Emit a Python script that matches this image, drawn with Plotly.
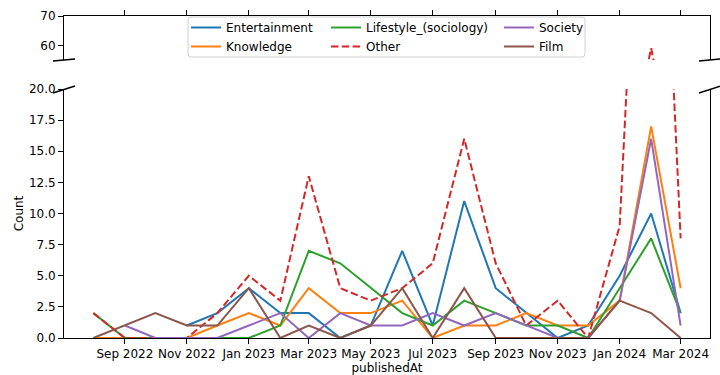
import pandas as pd
import plotly.graph_objects as go

# Monthly counts per category
months = ["2022-08-01", "2022-09-01", "2022-10-01", "2022-11-01", "2022-12-01",
          "2023-01-01", "2023-02-01", "2023-03-01", "2023-04-01", "2023-05-01",
          "2023-06-01", "2023-07-01", "2023-08-01", "2023-09-01", "2023-10-01",
          "2023-11-01", "2023-12-01", "2024-01-01", "2024-02-01", "2024-03-01"]
entertainment = [None, None, None, 1, 2, 4, 2, 2, 0, 1, 7, 1, 11, 4, 2, 0, 1, 5, 10, 2]
knowledge = [0, 0, 0, 0, 1, 2, 1, 4, 2, 2, 3, 0, 1, 1, 2, 1, 1, 3, 17, 4]
lifestyle = [2, 0, 0, 0, 0, 0, 1, 7, 6, 4, 2, 1, 3, 2, 1, 1, 0, 4, 8, 2]
other = [2, 0, 0, 0, 2, 5, 3, 13, 4, 3, 4, 6, 16, 6, 1, 3, 0, 9, 59, 8]
society = [None, 1, 0, 0, 0, 1, 2, 0, 2, 1, 1, 2, 1, 2, 1, 0, 0, 3, 16, 1]
film = [0, 1, 2, 1, 1, 4, 0, 1, 0, 1, 4, 0, 4, 0, 0, 0, 0, 3, 2, 0]

tick_dates = ["2022-09-01", "2022-11-01", "2023-01-01", "2023-03-01", "2023-05-01",
              "2023-07-01", "2023-09-01", "2023-11-01", "2024-01-01", "2024-03-01"]
tick_labels = ["Sep 2022", "Nov 2022", "Jan 2023", "Mar 2023", "May 2023",
               "Jul 2023", "Sep 2023", "Nov 2023", "Jan 2024", "Mar 2024"]

series = [
    ("Entertainment", entertainment, "#1f77b4", "solid", "legend"),
    ("Knowledge", knowledge, "#ff7f0e", "solid", "legend"),
    ("Lifestyle_(sociology)", lifestyle, "#2ca02c", "solid", "legend2"),
    ("Other", other, "#d62728", "7.5px,3.3px", "legend2"),
    ("Society", society, "#9467bd", "solid", "legend3"),
    ("Film", film, "#8c564b", "solid", "legend3"),
]

W, H = 720, 375
L, R, T, B = 64, 10, 16, 37
PW, PH = W - L - R, H - T - B


def fx(p):
    return (p - L) / PW


def fy(p):
    return (H - B - p) / PH


FONT = "DejaVu Sans"
FS = 12

fig = go.Figure()
for name, vals, color, dash, leg in series:
    for ax_y, show in (("y", True), ("y2", False)):
        fig.add_trace(go.Scatter(
            x=months, y=vals, name=name, mode="lines",
            line=dict(color=color, width=2, dash=dash),
            xaxis="x" if ax_y == "y" else "x2", yaxis=ax_y,
            showlegend=show, legend=leg, connectgaps=False,
        ))

t0, t1 = pd.Timestamp(months[0]), pd.Timestamp(months[-1])
pad = (t1 - t0) * 0.05
xr = [t0 - pad, t1 + pad]

bottom_dom = [0, fy(89)]
top_dom = [fy(60), 1]

axis_common = dict(showgrid=False, zeroline=False, linecolor="black", linewidth=1,
                   ticks="outside", ticklen=5, tickwidth=1, tickcolor="black",
                   automargin=False,
                   tickfont=dict(family=FONT, size=FS, color="black"))

fig.update_layout(
    width=W, height=H,
    margin=dict(l=L, r=R, t=T, b=B),
    paper_bgcolor="white", plot_bgcolor="white",
    font=dict(family=FONT, size=FS, color="black"),
    xaxis=dict(domain=[0, 1], range=xr, anchor="y", type="date",
               tickvals=tick_dates, ticktext=tick_labels, showline=True,
               tickangle=0,
               title=dict(text="publishedAt", standoff=2,
                          font=dict(family=FONT, size=FS)),
               **axis_common),
    xaxis2=dict(domain=[0, 1], range=xr, anchor="y2", type="date", side="top",
                matches="x", tickvals=tick_dates, showticklabels=False,
                showline=True, **axis_common),
    yaxis=dict(domain=bottom_dom, range=[0, 20], anchor="x", dtick=2.5,
               tickformat=".1f", showline=True, mirror=True,
               title=dict(text="Count", standoff=2,
                          font=dict(family=FONT, size=FS)),
               **axis_common),
    yaxis2=dict(domain=top_dom, range=[55, 70], anchor="x2", tickvals=[60, 70],
                showline=True, mirror=True, **axis_common),
)

# legend: three columns, two entries each
leg_common = dict(orientation="v", bgcolor="rgba(0,0,0,0)", borderwidth=0,
                  font=dict(family=FONT, size=FS, color="black"),
                  xanchor="left", yanchor="top", tracegroupgap=0,
                  itemwidth=30)
top_y = fy(13)
fig.update_layout(
    legend=dict(x=fx(186), y=top_y, **leg_common),
    legend2=dict(x=fx(326), y=top_y, **leg_common),
    legend3=dict(x=fx(499), y=top_y, **leg_common),
)

shapes = []
# legend frame with rounded corners
x0, x1, y0, y1, r = 188, 585, 17, 57, 3
path = (f"M{fx(x0 + r)},{fy(y0)} L{fx(x1 - r)},{fy(y0)} "
        f"Q{fx(x1)},{fy(y0)} {fx(x1)},{fy(y0 + r)} L{fx(x1)},{fy(y1 - r)} "
        f"Q{fx(x1)},{fy(y1)} {fx(x1 - r)},{fy(y1)} L{fx(x0 + r)},{fy(y1)} "
        f"Q{fx(x0)},{fy(y1)} {fx(x0)},{fy(y1 - r)} L{fx(x0)},{fy(y0 + r)} "
        f"Q{fx(x0)},{fy(y0)} {fx(x0 + r)},{fy(y0)} Z")
shapes.append(dict(type="path", path=path, xref="paper", yref="paper",
                   fillcolor="rgba(255,255,255,0.8)",
                   line=dict(color="#d0d0d0", width=1), layer="above"))

# diagonal break marks between the two panels
for xc in (L, W - R):
    shapes.append(dict(type="line", xref="paper", yref="paper",
                       x0=fx(xc - 11), x1=fx(xc + 11), y0=fy(61), y1=fy(59),
                       line=dict(color="black", width=1.5)))
    shapes.append(dict(type="line", xref="paper", yref="paper",
                       x0=fx(xc - 11), x1=fx(xc + 11), y0=fy(93), y1=fy(86),
                       line=dict(color="black", width=1.5)))
fig.update_layout(shapes=shapes)

fig.write_html("out.html")
